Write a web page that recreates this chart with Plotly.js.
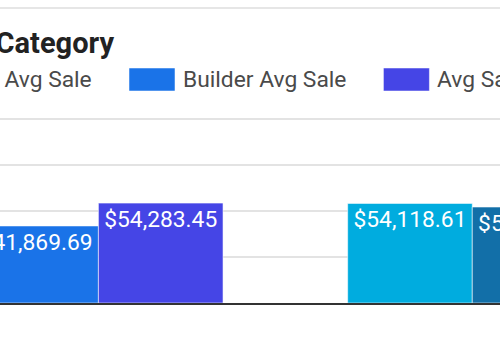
<!DOCTYPE html>
<html>
<head>
<meta charset="utf-8">
<script src="https://cdn.plot.ly/plotly-3.0.1.min.js"></script>
<style>
  html, body { margin: 0; padding: 0; background: #fff; overflow: hidden; }
  #chart { width: 500px; height: 350px; }
</style>
</head>
<body>
<div id="chart"></div>
<script>
// Average sale per customer channel across two product categories
const categories = ['Cabinets', 'Countertops'];
const seriesNames = ['Dealer Avg Sale', 'Builder Avg Sale', 'Avg Sale'];
const dealerAvgSale = [48210.30, 54118.61];
const builderAvgSale = [41869.69, 52150.00];
const avgSale = [54283.45, 53020.00];

// Bar fills, one colour per bar (category order)
const dealerColors = ['#12a4b8', '#00acdf'];
const builderColors = ['#1a73e8', '#126fa8'];
const avgSaleColors = ['#4545e6', '#7b3fd0'];

const W = 500, H = 350;
const M = { l: 0, r: 0, t: 110, b: 47 };
const plotH = H - M.t - M.b;
const px2x = px => (px - M.l) / (W - M.l - M.r);
const px2y = py => (H - M.b - py) / plotH;
// 184 px of plot height per 100k, with headroom so the 100k gridline is drawn
const yTop = 100000 * plotH / 184;

const valueSets = [dealerAvgSale, builderAvgSale, avgSale];
const colorSets = [dealerColors, builderColors, avgSaleColors];

const traces = valueSets.map((vals, i) => ({
  type: 'bar',
  name: seriesNames[i],
  x: categories,
  y: vals,
  marker: { color: colorSets[i], line: { color: 'rgba(255,255,255,0.55)', width: 1 } },
  texttemplate: '$%{y:,.2f}',
  textposition: 'inside',
  insidetextanchor: 'end',
  textfont: { family: 'Roboto, sans-serif', size: 22.8, color: '#ffffff' },
  hoverinfo: 'skip',
  showlegend: false
}));

// Legend row drawn as swatches + labels, laid out from measured text widths
const legendFont = { family: 'Roboto, sans-serif', size: 22.8, color: '#4a4a4a' };
const ctx = document.createElement('canvas').getContext('2d');
ctx.font = legendFont.size + 'px Roboto';
const swatchW = 46, swatchGap = 9, itemGap = 36, labelPad = 3;
const legendTop = 68, legendBottom = 91, legendMid = 80;
const widths = seriesNames.map(n => ctx.measureText(n).width);
// second swatch sits at x = 129; earlier items are laid out leftwards from it
const starts = [];
starts[1] = 129;
starts[0] = starts[1] - itemGap - widths[0] - swatchGap - swatchW;
for (let i = 2; i < seriesNames.length; i++) {
  starts[i] = starts[i - 1] + swatchW + swatchGap + widths[i - 1] + itemGap;
}

const shapes = [
  { type: 'line', xref: 'paper', yref: 'paper', x0: 0, x1: 1, y0: px2y(8), y1: px2y(8),
    line: { color: '#e6e6e6', width: 2 } }
];
const annotations = [];
seriesNames.forEach((name, i) => {
  shapes.push({
    type: 'rect', xref: 'paper', yref: 'paper',
    x0: px2x(starts[i]), x1: px2x(starts[i] + swatchW),
    y0: px2y(legendBottom), y1: px2y(legendTop),
    fillcolor: colorSets[i][0],
    line: { color: 'rgba(255,255,255,0.5)', width: 1 }
  });
  annotations.push({
    xref: 'paper', yref: 'paper',
    x: px2x(starts[i] + swatchW + swatchGap - labelPad), y: px2y(legendMid),
    xanchor: 'left', yanchor: 'middle',
    text: name, showarrow: false, font: legendFont
  });
});

const layout = {
  width: W, height: H,
  margin: { l: M.l, r: M.r, t: M.t, b: M.b, pad: 0 },
  paper_bgcolor: '#ffffff',
  plot_bgcolor: '#ffffff',
  font: { family: 'Roboto, sans-serif' },
  title: {
    text: 'Average Sale by Category',
    xref: 'paper', x: px2x(114), xanchor: 'right',
    yref: 'container', y: 1 - 43 / H, yanchor: 'middle',
    font: { family: 'Roboto, sans-serif', size: 29, color: '#222222', weight: 700 }
  },
  barmode: 'group',
  bargap: 0.25,
  bargroupgap: 0,
  showlegend: false,
  xaxis: {
    type: 'category',
    range: [-0.0724, 0.9306],
    showticklabels: false, showgrid: false, zeroline: false,
    showline: true, linecolor: '#333333', linewidth: 2, ticks: ''
  },
  yaxis: {
    range: [0, yTop], tick0: 0, dtick: 25000,
    showticklabels: false, zeroline: false, showline: false,
    gridcolor: '#e3e3e3', gridwidth: 2
  },
  shapes: shapes,
  annotations: annotations
};

Plotly.newPlot('chart', traces, layout, { staticPlot: true, displayModeBar: false });
</script>
</body>
</html>
